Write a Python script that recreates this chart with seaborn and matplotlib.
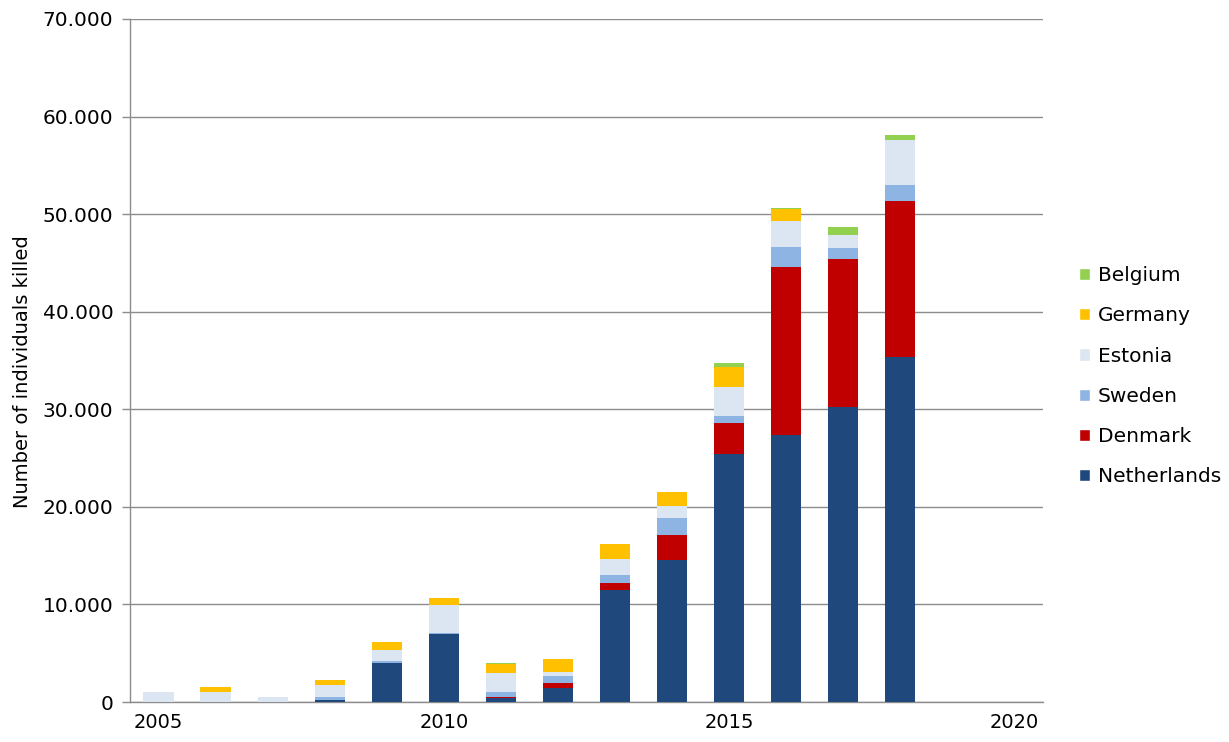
import numpy as np
import pandas as pd
import matplotlib
matplotlib.use("Agg")
import matplotlib.pyplot as plt
import seaborn as sns
from matplotlib.ticker import FuncFormatter, FixedLocator
from matplotlib.patches import Patch

years = [str(y) for y in range(2005, 2021)]
netherlands = [0, 0, 0, 200, 3950, 7000, 380, 1470, 11510, 14550, 25380, 27360, 30200, 35360, 0, 0]
denmark     = [0, 0, 0, 50, 0, 0, 150, 480, 720, 2570, 3250, 17260, 15170, 15990, 0, 0]
sweden      = [0, 0, 0, 300, 250, 100, 480, 710, 790, 1740, 650, 2010, 1130, 1670, 0, 0]
estonia     = [1000, 1000, 500, 1150, 1100, 2850, 1970, 410, 1640, 1230, 3040, 2630, 1390, 4550, 0, 0]
germany     = [0, 500, 0, 600, 800, 700, 890, 1300, 1530, 1430, 2010, 1270, 0, 0, 0, 0]
belgium     = [0, 0, 0, 0, 0, 0, 100, 0, 0, 0, 410, 100, 820, 540, 0, 0]

series = [("Netherlands", netherlands, "#1F497D"),
          ("Denmark", denmark, "#C00000"),
          ("Sweden", sweden, "#8EB4E3"),
          ("Estonia", estonia, "#DCE6F2"),
          ("Germany", germany, "#FFC000"),
          ("Belgium", belgium, "#92D050")]

sns.set_theme(style="white")
plt.rcParams['font.family'] = ['DejaVu Sans']
plt.rcParams['text.color'] = 'black'

fig = plt.figure(figsize=(12.29, 7.42), dpi=100)
ax = fig.add_axes([130/1229, 1-702/742, (1043-130)/1229, (702-19)/742])

cum = np.zeros(len(years))
layers = []
for name, vals, col in series:
    cum = cum + np.array(vals, dtype=float)
    layers.append((name, cum.copy(), col))

for name, c, col in reversed(layers):
    df = pd.DataFrame({"year": years, "value": c})
    sns.barplot(data=df, x="year", y="value", order=years, color=col,
                width=0.53, saturation=1, ax=ax, linewidth=0, zorder=3)

ax.set_ylim(0, 70000)
ax.set_xlim(-0.5, len(years) - 0.5)
ax.set_yticks(np.arange(0, 70001, 10000))
ax.yaxis.set_major_formatter(FuncFormatter(lambda v, p: f"{int(v):,}".replace(",", ".")))
ax.yaxis.grid(True, color="#8C8C8C", linewidth=1.0, zorder=0)
ax.set_axisbelow(True)

ax.set_xticks([0, 5, 10, 15])
ax.set_xticklabels(["2005", "2010", "2015", "2020"])
ax.xaxis.set_minor_locator(FixedLocator(np.arange(-0.5, len(years), 1)))
ax.tick_params(axis="x", which="major", length=0, pad=8, labelsize=14, labelcolor="black")
ax.tick_params(axis="x", which="minor", length=6, width=1, color="#8C8C8C", direction="out")
ax.tick_params(axis="y", which="major", length=6, width=1, color="#8C8C8C", direction="out",
               left=True, labelsize=14.5, pad=6, labelcolor="black")

for s in ["top", "right"]:
    ax.spines[s].set_visible(False)
for s in ["left", "bottom"]:
    ax.spines[s].set_color("#8C8C8C")
    ax.spines[s].set_linewidth(1.0)

ax.set_xlabel("")
ax.set_ylabel("Number of individuals killed", fontsize=14, color="black")
ax.yaxis.set_label_coords(-0.107, 0.483)

handles = [Patch(facecolor=col, label=name) for name, _, col in reversed(series)]
leg = ax.legend(handles=handles, loc="center left", bbox_to_anchor=(1.02, 0.477),
                frameon=False, fontsize=14.5, handlelength=0.55, handleheight=0.55,
                handletextpad=0.35, labelspacing=1.05)
for t in leg.get_texts():
    t.set_color("black")

fig.savefig("out.png", dpi=100)
